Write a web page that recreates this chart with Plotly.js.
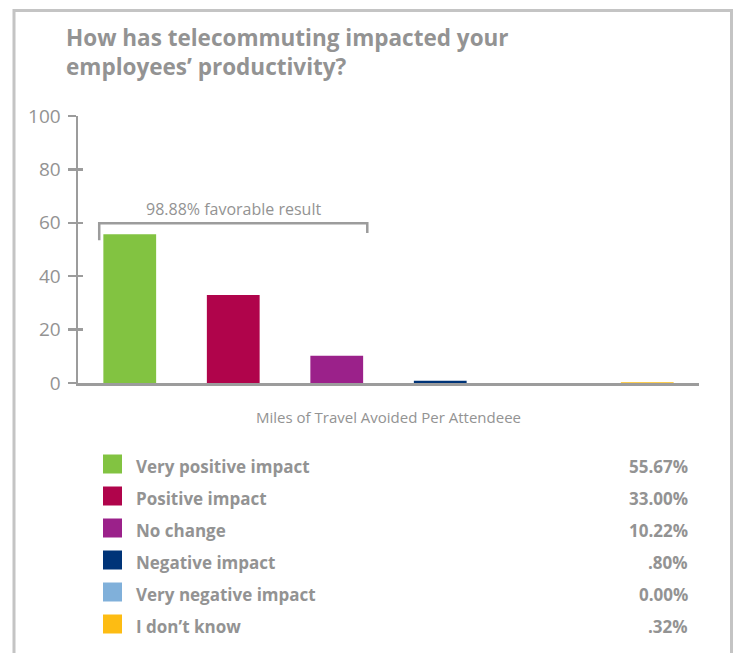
<!DOCTYPE html>
<html><head><meta charset="utf-8">
<script src="https://cdn.plot.ly/plotly-3.0.1.min.js"></script>
<style>body{margin:0;background:#fff}#chart{width:736px;height:653px}</style>
</head><body><div id="chart"></div>
<script>
// ---- data ----
const categories = ["Very positive impact","Positive impact","No change","Negative impact","Very negative impact","I don\u2019t know"];
const values = [55.67, 33.00, 10.22, 0.80, 0.00, 0.32];
const valueLabels = ["55.67%","33.00%","10.22%",".80%","0.00%",".32%"];
const colors = ["#82c341","#b0044b","#9b218a","#003478","#80b0da","#fdbc13"];
const yTicks = [0,20,40,60,80,100];
const titleText = "How has telecommuting impacted your<br>employees\u2019 productivity?";
const xTitle = "Miles of Travel Avoided Per Attendeee";
const bracketLabel = "98.88% favorable result";

// ---- layout constants ----
const W = 736, H = 653;
const L = 78, R = 37, T = 116, B = 0;
const pw = W - L - R, ph = H - T - B;
const gray = "#939393", axisGray = "#9c9c9c";
const font = "'Open Sans', 'Noto Sans', sans-serif";
const mainBottomPx = 383;
const rowTopPx = 464, rowStep = 32;
const barW = 0.51;
const idx = categories.map((_, i) => i);

const px2paperX = p => (p - L) / pw;
const px2paperY = p => (H - p) / ph;

const y2top = 0 - (rowTopPx - T) / rowStep;
const y2bot = (categories.length - 1) + (H - (rowTopPx + rowStep * (categories.length - 1))) / rowStep;

const traces = [
  {
    type: "bar", x: idx, y: values, xaxis: "x", yaxis: "y",
    marker: { color: colors, line: { color: "#ffffff", width: 0 } },
    width: barW, hoverinfo: "skip", showlegend: false
  },
  {
    type: "scatter", mode: "markers", x: idx.map(() => 112.5 - L), y: idx,
    xaxis: "x2", yaxis: "y2",
    marker: { symbol: "square", size: 19, color: colors, line: { width: 0 } },
    hoverinfo: "skip", showlegend: false, cliponaxis: false
  }
];

const annotations = [];
categories.forEach((c, i) => {
  annotations.push({ xref: "x2", yref: "y2", x: 134 - L, y: i, yshift: -2, text: c, showarrow: false,
    xanchor: "left", yanchor: "middle", font: { family: font, size: 17, color: gray, weight: "bold" } });
  annotations.push({ xref: "x2", yref: "y2", x: 690 - L, y: i, yshift: -2, text: valueLabels[i], showarrow: false,
    xanchor: "right", yanchor: "middle", font: { family: font, size: 17, color: gray, weight: "bold" } });
});
annotations.push({ xref: "x", yref: "y", x: 1, y: 60.3, text: bracketLabel, showarrow: false,
  xanchor: "center", yanchor: "bottom", font: { family: font, size: 16, color: gray } });

const shapes = [
  { type: "path", xref: "paper", yref: "paper", layer: "above",
    path: `M ${px2paperX(14)} ${px2paperY(700)} L ${px2paperX(14)} ${px2paperY(10.5)} L ${px2paperX(731.5)} ${px2paperY(10.5)} L ${px2paperX(731.5)} ${px2paperY(700)}`,
    line: { color: "#c4c4c4", width: 3 } },
  { type: "path", xref: "x", yref: "y",
    path: "M -0.295 53.5 L -0.295 59.8 L 2.295 59.8 L 2.295 56.2",
    line: { color: axisGray, width: 2.5 } }
];
// white gaps in the axis line beneath every bar
idx.forEach(i => {
  shapes.push({ type: "rect", xref: "x", yref: "y", x0: i - barW / 2 - 0.01, x1: i + barW / 2 + 0.01,
    ysizemode: "pixel", yanchor: 0, y0: -4, y1: values[i] > 0 ? -0.4 : 1.5,
    fillcolor: "#ffffff", line: { width: 0 }, layer: "above" });
});

const layout = {
  width: W, height: H,
  margin: { l: L, r: R, t: T, b: B, pad: 0 },
  paper_bgcolor: "#ffffff", plot_bgcolor: "rgba(0,0,0,0)",
  showlegend: false,
  font: { family: font, color: gray },
  title: { text: titleText, xref: "container", yref: "container", x: 66 / W, xanchor: "left",
    y: 1 - 46 / H, yanchor: "top", font: { family: font, size: 22.5, color: gray, weight: "bold" } },
  xaxis: { domain: [0, 1], range: [-0.5, 5.5], showticklabels: false, ticks: "",
    showline: true, linecolor: axisGray, linewidth: 2.5, showgrid: false, zeroline: false,
    layer: "below traces", anchor: "y", fixedrange: true,
    title: { text: xTitle, standoff: 28, font: { family: font, size: 15, color: gray } } },
  yaxis: { domain: [px2paperY(mainBottomPx), 1], range: [0, 100], tickvals: yTicks, ticktext: yTicks.map(String),
    ticks: "outside", ticklen: 8, tickwidth: 2.5, tickcolor: axisGray,
    showline: true, linecolor: axisGray, linewidth: 2.5, showgrid: false, zeroline: false,
    tickfont: { family: font, size: 19, color: gray }, ticklabelstandoff: 3,
    anchor: "x", layer: "below traces", fixedrange: true },
  yaxis3: { overlaying: "y", domain: [px2paperY(mainBottomPx), 1], range: [0, 100], tickvals: yTicks,
    ticks: "inside", ticklen: 5, tickwidth: 2.5, tickcolor: axisGray, showticklabels: false,
    showline: false, showgrid: false, zeroline: false, anchor: "x", fixedrange: true },
  xaxis2: { domain: [0, 1], range: [0, pw], visible: false, anchor: "y2", fixedrange: true },
  yaxis2: { domain: [0, 1], range: [y2bot, y2top], visible: false, anchor: "x2", fixedrange: true },
  annotations: annotations,
  shapes: shapes
};

traces.push({ type: "scatter", x: [0], y: [0], xaxis: "x", yaxis: "y3", mode: "markers",
  marker: { opacity: 0 }, hoverinfo: "skip", showlegend: false });

Plotly.newPlot("chart", traces, layout, { displayModeBar: false, staticPlot: true });
</script>
</body></html>
